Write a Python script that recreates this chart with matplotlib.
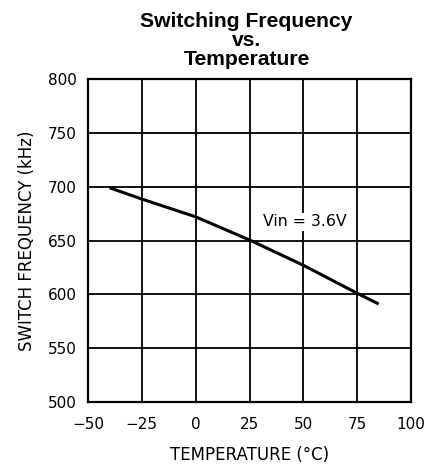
import matplotlib
matplotlib.use("Agg")
import matplotlib.pyplot as plt

plt.rcParams["font.family"] = ["DejaVu Sans"]

temps = [-40, -25, 0, 25, 50, 75, 85]
freq = [699, 688.5, 672, 650.5, 627, 601, 591]
xticks = [-50, -25, 0, 25, 50, 75, 100]
yticks = [500, 550, 600, 650, 700, 750, 800]

fig = plt.figure(figsize=(4.32, 4.74), dpi=100)
ax = fig.add_axes([0.2037, 0.1519, 0.7477, 0.6814])
ax.plot(temps, freq, color="black", lw=2.2, solid_capstyle="butt")
ax.set_xlim(-50, 100)
ax.set_ylim(500, 800)
ax.set_xticks(xticks)
ax.set_yticks(yticks)
ax.set_xticklabels([str(t).replace("-", "\u2212") for t in xticks])
ax.grid(True, color="black", lw=1.3)
ax.set_axisbelow(True)
for s in ax.spines.values():
    s.set_linewidth(1.6)
ax.tick_params(length=0, labelsize=11, pad=8)
ax.tick_params(axis="x", pad=11)
ax.set_xlabel("TEMPERATURE (°C)", fontsize=12, labelpad=10)
ax.set_ylabel("SWITCH FREQUENCY (kHz)", fontsize=12, labelpad=8.5)
ax.text(31.3, 667.5, "Vin = 3.6V", fontsize=11.3, va="center", ha="left",
        bbox=dict(facecolor="white", edgecolor="none", pad=1))
fig.text(0.5706, 0.862, "Switching Frequency\nvs.\nTemperature", ha="center", va="baseline",
         fontsize=15.2, fontweight="bold", family=["Liberation Sans", "DejaVu Sans"],
         linespacing=1.0)
fig.savefig("out.png", dpi=100)
